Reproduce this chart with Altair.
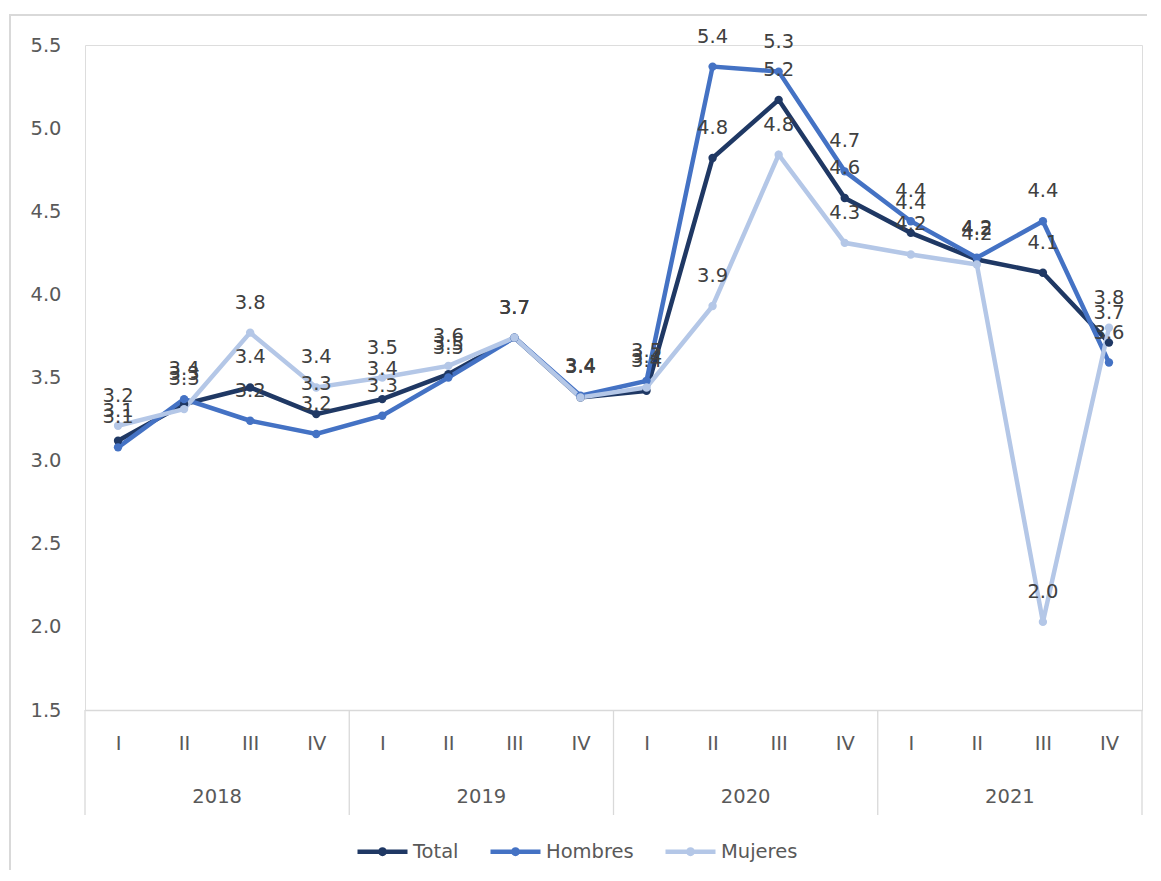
import altair as alt
import pandas as pd

# ---- data ----
quarters = ["I", "II", "III", "IV"]
years = ["2018", "2019", "2020", "2021"]
series_names = ["Total", "Hombres", "Mujeres"]
total = [3.12, 3.34, 3.44, 3.28, 3.37, 3.52, 3.74, 3.38, 3.42, 4.82, 5.17, 4.58, 4.37, 4.21, 4.13, 3.71]
hombres = [3.08, 3.37, 3.24, 3.16, 3.27, 3.50, 3.74, 3.39, 3.48, 5.37, 5.34, 4.74, 4.44, 4.22, 4.44, 3.59]
mujeres = [3.21, 3.31, 3.77, 3.44, 3.50, 3.57, 3.74, 3.38, 3.44, 3.93, 4.84, 4.31, 4.24, 4.18, 2.03, 3.80]
colors = ["#1F3864", "#4472C4", "#B4C7E7"]

FONT = "DejaVu Sans"
FS = 19.5
W, H = 1057, 665

rows = []
for s_i, (name, vals) in enumerate(zip(series_names, [total, hombres, mujeres])):
    for i, v in enumerate(vals):
        rows.append({"idx": i, "quarter": quarters[i % 4], "year": years[i // 4],
                     "serie": name, "valor": v, "s_order": s_i})
df = pd.DataFrame(rows)

nq = len(quarters)
year_df = pd.DataFrame({"year": years, "center": [k * nq + (nq - 1) / 2 for k in range(len(years))]})
sep_df = pd.DataFrame({"pos": [k * nq - 0.5 for k in range(len(years) + 1)]})
one = pd.DataFrame({"a": [0]})

x_scale = alt.Scale(domain=[-0.5, len(total) - 0.5], nice=False, zero=False)
y_scale = alt.Scale(domain=[1.5, 5.5], nice=False, zero=False)
color_scale = alt.Scale(domain=series_names, range=colors)

legend = alt.Legend(
    title=None, orient="none", direction="horizontal", legendX=270, legendY=779,
    symbolType="M-1,0L1,0M-0.09,0a0.09,0.09 0 1,0 0.18,0a0.09,0.09 0 1,0 -0.18,0",
    symbolSize=2500, symbolStrokeWidth=4.5, labelFont=FONT, labelFontSize=FS,
    labelColor="#595959", columnPadding=22, labelOffset=3, padding=0,
)

x_enc = alt.X("idx:Q", scale=x_scale, axis=alt.Axis(
    values=list(range(len(total))),
    labelExpr="['I','II','III','IV'][datum.value % 4]",
    title=None, grid=False, ticks=False, domainColor="#D9D9D9", domainWidth=1.3,
    labelFont=FONT, labelFontSize=FS, labelColor="#595959", labelPadding=24,
))
y_enc = alt.Y("valor:Q", scale=y_scale, axis=alt.Axis(
    values=[1.5, 2.0, 2.5, 3.0, 3.5, 4.0, 4.5, 5.0, 5.5], format=".1f",
    title=None, grid=False, ticks=False, domain=False,
    labelFont=FONT, labelFontSize=FS, labelColor="#595959", labelPadding=24,
))
color_enc = alt.Color("serie:N", scale=color_scale, legend=legend, sort=series_names)

border = alt.Chart(one).mark_rect(filled=False, stroke="#D9D9D9", strokeWidth=2).encode(
    x=alt.value(-75), x2=alt.value(W + 60), y=alt.value(-30), y2=alt.value(H + 250)
)

lines = alt.Chart(df).mark_line(strokeWidth=4.5).encode(
    x=x_enc, y=y_enc, color=color_enc, order="idx:Q"
)
points = alt.Chart(df).mark_point(filled=True, size=70, opacity=1).encode(
    x="idx:Q", y="valor:Q", color=color_enc
)
labels = alt.Chart(df).mark_text(font=FONT, fontSize=FS, color="#404040",
                                 baseline="middle", dy=-30).encode(
    x="idx:Q", y="valor:Q", text=alt.Text("valor:Q", format=".1f")
)
seps = alt.Chart(sep_df).mark_rule(color="#D9D9D9", strokeWidth=1.3).encode(
    x=alt.X("pos:Q"), y=alt.value(H), y2=alt.value(H + 105)
)
year_text = alt.Chart(year_df).mark_text(font=FONT, fontSize=FS, color="#595959",
                                         baseline="middle").encode(
    x=alt.X("center:Q"), y=alt.value(H + 87), text="year:N"
)

chart = alt.layer(border, seps, year_text, lines, points, labels).properties(
    width=W, height=H,
    autosize=alt.AutoSizeParams(type="none"),
    padding={"left": 77, "top": 37, "right": 5, "bottom": 160},
).configure_view(stroke=None).configure(background="white")

chart.save("out.html", embed_options={"renderer": "svg", "actions": False})
